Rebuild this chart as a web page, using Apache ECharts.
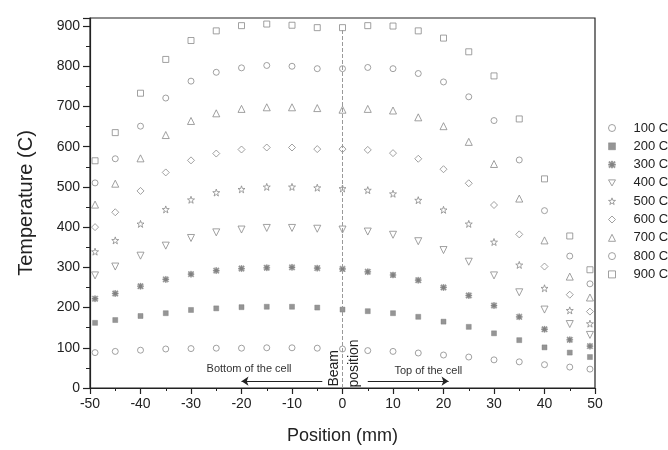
<!DOCTYPE html>
<html>
<head>
<meta charset="utf-8">
<script src="https://cdn.jsdelivr.net/npm/echarts@6/dist/echarts.min.js"></script>
<style>html,body{margin:0;padding:0;background:#fff}#c{width:668px;height:450px}</style>
</head>
<body>
<div id="c"></div>
<script>
var positions = [-49,-45,-40,-35,-30,-25,-20,-15,-10,-5,0,5,10,15,20,25,30,35,40,45,49];
var seriesNames = ['100 C','200 C','300 C','400 C','500 C','600 C','700 C','800 C','900 C'];
var t100 = [88,91,94,97,98,99,99,100,100,99,97,93,91,87,82,77,70,65,58,52,47];
var t200 = [162,169,179,186,194,198,201,202,202,200,195,191,186,177,165,152,136,119,101,88,77];
var t300 = [222,235,253,270,283,292,297,299,300,298,296,289,281,268,250,230,205,177,146,120,104];
var t400 = [280,302,329,354,373,387,394,398,398,396,394,389,381,365,343,314,280,238,195,159,132];
var t500 = [339,367,408,444,468,486,494,500,500,498,496,492,483,467,443,408,363,306,248,193,160];
var t600 = [400,437,490,536,566,583,593,598,598,594,594,592,584,570,544,509,455,382,302,232,190];
var t700 = [456,508,571,629,664,683,694,698,698,696,692,694,690,673,651,612,557,471,367,277,225];
var t800 = [510,570,651,721,763,785,796,802,800,794,794,797,794,782,761,724,665,567,441,328,259];
var t900 = [565,635,733,817,864,888,901,905,902,896,896,901,900,888,870,836,776,669,520,378,294];
var xTicks = [-50,-40,-30,-20,-10,0,10,20,30,40,50];
var yTicks = [0,100,200,300,400,500,600,700,800,900];

var allData = [t100,t200,t300,t400,t500,t600,t700,t800,t900];
var STAR = 'path://M0,-10 L2.35,-3.24 L9.51,-3.09 L3.80,1.24 L5.88,8.09 L0,4 L-5.88,8.09 L-3.80,1.24 L-9.51,-3.09 L-2.35,-3.24 Z';
var AST = 'path://M-1,-5 L1,-5 L1,5 L-1,5 Z M-5,-1 L5,-1 L5,1 L-5,1 Z M-3.5,-4.9 L4.9,3.5 L3.5,4.9 L-4.9,-3.5 Z M3.5,-4.9 L4.9,-3.5 L-3.5,4.9 L-4.9,3.5 Z';
var TRIDOWN = 'path://M-5,-4.33 L5,-4.33 L0,4.33 Z';
var symbols = [
  {s:'circle', size:6, fill:false},
  {s:'rect', size:5, fill:true},
  {s:AST, size:6, fill:true},
  {s:TRIDOWN, size:7, fill:false},
  {s:STAR, size:7, fill:false},
  {s:'diamond', size:7, fill:false},
  {s:'triangle', size:7, fill:false},
  {s:'circle', size:6, fill:false},
  {s:'rect', size:6, fill:false}
];
var GREY = '#8a8a8a';
function styleFor(sy){
  return sy.fill ? {color: '#7a7a7a', borderColor: '#7a7a7a', borderWidth: 0.5}
                 : {color: '#ffffff', borderColor: GREY, borderWidth: 1};
}
var series = seriesNames.map(function(n, i){
  var sy = symbols[i];
  return {
    name: n, type: 'scatter',
    data: positions.map(function(p, j){ return [p, allData[i][j]]; }),
    symbol: sy.s, symbolSize: sy.size,
    itemStyle: styleFor(sy),
    emphasis: {disabled: true}, z: 3
  };
});
series.push({
  name: 'beam', type: 'scatter', data: [], silent: true,
  markLine: {
    silent: true, symbol: ['none','none'], label: {show: false},
    lineStyle: {color: '#999', type: 'dashed', width: 1},
    data: [[{coord: [0, 0]}, {coord: [0, 893]}]]
  }
});
series.push({
  name: 'arrows', type: 'scatter', data: [], silent: true,
  markLine: {
    silent: true, symbol: ['none','arrow'], symbolSize: 7, label: {show: false},
    lineStyle: {color: '#222', type: 'solid', width: 1},
    data: [
      [{coord: [-4, 17]}, {coord: [-20, 17]}],
      [{coord: [5, 17]}, {coord: [21, 17]}]
    ]
  }
});

var legendData = seriesNames.map(function(n, i){
  var sy = symbols[i];
  return {name: n, icon: sy.s, itemStyle: styleFor(sy)};
});

var FONT = 'Liberation Sans, Arial, sans-serif';
var chart = echarts.init(document.getElementById('c'));
chart.setOption({
  backgroundColor: '#fff',
  animation: false,
  grid: {left: 90, right: 73, top: 18, bottom: 57, show: true, borderColor: '#222', borderWidth: 1.2, backgroundColor: 'transparent'},
  legend: {
    data: legendData, orient: 'vertical', left: 603, top: 116,
    itemWidth: 7, itemHeight: 7, itemGap: 4.3,
    textStyle: {fontFamily: FONT, fontSize: 13, color: '#222', lineHeight: 14, padding: [0,0,0,13]},
    selectedMode: false
  },
  xAxis: {
    type: 'value', min: -50, max: 50, interval: 10,
    name: 'Position (mm)', nameLocation: 'middle', nameGap: 39,
    nameTextStyle: {fontFamily: FONT, fontSize: 18, color: '#222'},
    axisLine: {show: true, onZero: false, lineStyle: {color: '#222', width: 1.2}},
    axisTick: {show: true, length: 6, lineStyle: {color: '#222', width: 1.2}},
    minorTick: {show: true, splitNumber: 2, length: 3, lineStyle: {color: '#222', width: 1}},
    axisLabel: {fontFamily: FONT, fontSize: 14, color: '#222', margin: 9,
      formatter: function(v){ return xTicks.indexOf(v) >= 0 ? String(v) : ''; }},
    splitLine: {show: false}
  },
  yAxis: {
    type: 'value', min: 0, max: 920, interval: 100,
    name: 'Temperature (C)', nameLocation: 'middle', nameGap: 54,
    nameTextStyle: {fontFamily: FONT, fontSize: 20, color: '#222'},
    axisLine: {show: true, onZero: false, lineStyle: {color: '#222', width: 1.2}},
    axisTick: {show: true, length: 7, lineStyle: {color: '#222', width: 1.2}},
    minorTick: {show: true, splitNumber: 2, length: 4, lineStyle: {color: '#222', width: 1}},
    axisLabel: {fontFamily: FONT, fontSize: 14, color: '#222', margin: 10, showMaxLabel: false,
      formatter: function(v){ return yTicks.indexOf(v) >= 0 ? String(v) : ''; }},
    splitLine: {show: false}
  },
  series: series
});

function px(x, y){ return chart.convertToPixel({gridIndex: 0}, [x, y]); }
var pB = px(-18.5, 47), pT = px(17, 42), pBeam = px(-1.7, 49), pPos = px(2.3, 61);
chart.setOption({
  graphic: [
    {type: 'text', x: pB[0], y: pB[1], silent: true,
      style: {text: 'Bottom of the cell', font: '11px ' + FONT, fill: '#333', textAlign: 'center', textVerticalAlign: 'middle'}},
    {type: 'text', x: pT[0], y: pT[1], silent: true,
      style: {text: 'Top of the cell', font: '11px ' + FONT, fill: '#333', textAlign: 'center', textVerticalAlign: 'middle'}},
    {type: 'text', x: pBeam[0], y: pBeam[1], rotation: Math.PI / 2, silent: true,
      style: {text: 'Beam', font: '14px ' + FONT, fill: '#222', textAlign: 'center', textVerticalAlign: 'middle'}},
    {type: 'text', x: pPos[0], y: pPos[1], rotation: Math.PI / 2, silent: true,
      style: {text: 'position', font: '14px ' + FONT, fill: '#222', textAlign: 'center', textVerticalAlign: 'middle'}}
  ]
});
</script>
</body>
</html>
